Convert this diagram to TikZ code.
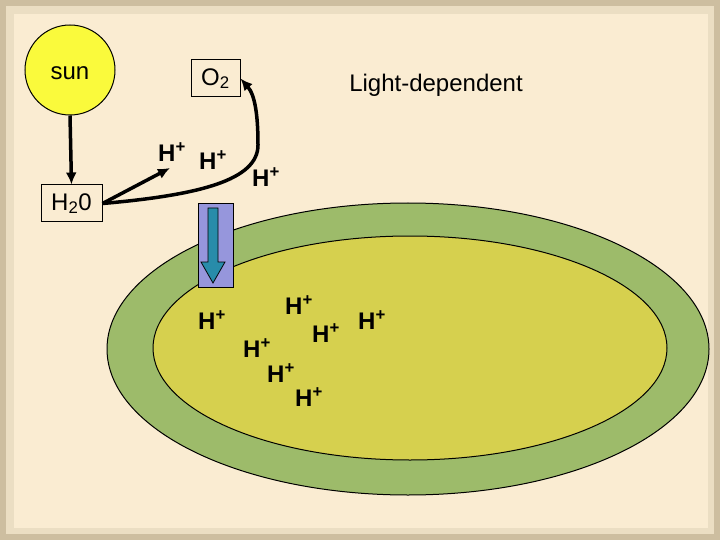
\documentclass[tikz,border=0pt]{standalone}
\usepackage{fontspec}
\setmainfont{Liberation Sans}
\usetikzlibrary{arrows.meta}
\begin{document}
\begin{tikzpicture}[x=1pt,y=-1pt,
  lbl/.style={font=\fontsize{24}{26}\selectfont},
  hp/.style={font=\bfseries\fontsize{24}{26}\selectfont, inner sep=0pt},
  box/.style={draw=black, line width=1pt, fill=none, inner sep=0pt, minimum height=37pt, font=\fontsize{24}{26}\selectfont},
  arr/.style={line width=3.5pt, -{Latex[length=12pt,width=11pt]}}]
\useasboundingbox (0,0) rectangle (720,540);
\fill[color={rgb,255:red,205;green,190;blue,160}] (0,0) rectangle (720,540);
\fill[color={rgb,255:red,235;green,222;blue,195}] (6,6) rectangle (714,534);
\fill[color={rgb,255:red,250;green,236;blue,210}] (14,14) rectangle (708,528);
% chloroplast
\fill[color={rgb,255:red,157;green,187;blue,106}, draw=black, line width=1pt] (408,349) ellipse [x radius=301, y radius=146];
\fill[color={rgb,255:red,214;green,208;blue,78}, draw=black, line width=1pt] (410,348) ellipse [x radius=257, y radius=112];
% channel
\node[draw=black, line width=1pt, fill={rgb,255:red,150;green,150;blue,220}, minimum width=35pt, minimum height=83pt, inner sep=0pt] (ch) at (215.5,245.5) {};
\fill[color={rgb,255:red,40;green,140;blue,170}, draw=black, line width=0.8pt]
  (208,208) -- (218,208) -- (218,262) -- (225,262) -- (213,283) -- (201,262) -- (208,262) -- cycle;
% sun
\node[circle, draw=black, line width=1pt, fill={rgb,255:red,250;green,250;blue,60}, minimum size=90pt, inner sep=0pt] (sun) at (70,70) {};
\node[lbl] (suntxt) at (70,73) {sun};
% boxes
\node[box, minimum width=49pt] (o2) at (215.5,78.5) {O\textsubscript{2}};
\node[box, minimum width=61pt] (h2o) at (71.5,203.5) {H\textsubscript{2}0};
\node[lbl] (ld) at (436,85) {Light-dependent};
% H+
\node[hp] (h1) at (172,152) {H\textsuperscript{+}};
\node[hp] (h2) at (213,160) {H\textsuperscript{+}};
\node[hp] (h3) at (266,177) {H\textsuperscript{+}};
\node[hp] (h4) at (212,320) {H\textsuperscript{+}};
\node[hp] (h5) at (299,305) {H\textsuperscript{+}};
\node[hp] (h6) at (257,348) {H\textsuperscript{+}};
\node[hp] (h7) at (326,333) {H\textsuperscript{+}};
\node[hp] (h8) at (372,320) {H\textsuperscript{+}};
\node[hp] (h9) at (281,373) {H\textsuperscript{+}};
\node[hp] (h10) at (309,397) {H\textsuperscript{+}};
\coordinate (hend) at (170,168);
% arrows
\draw[arr] (sun.south) -- (h2o.north);
\draw[arr] (h2o.east) -- (hend);
\draw[arr] (h2o.east) .. controls (200,195) and (258,180) .. (258,145) .. controls (258,115) and (255,95) .. (o2.east);
\end{tikzpicture}
\end{document}
